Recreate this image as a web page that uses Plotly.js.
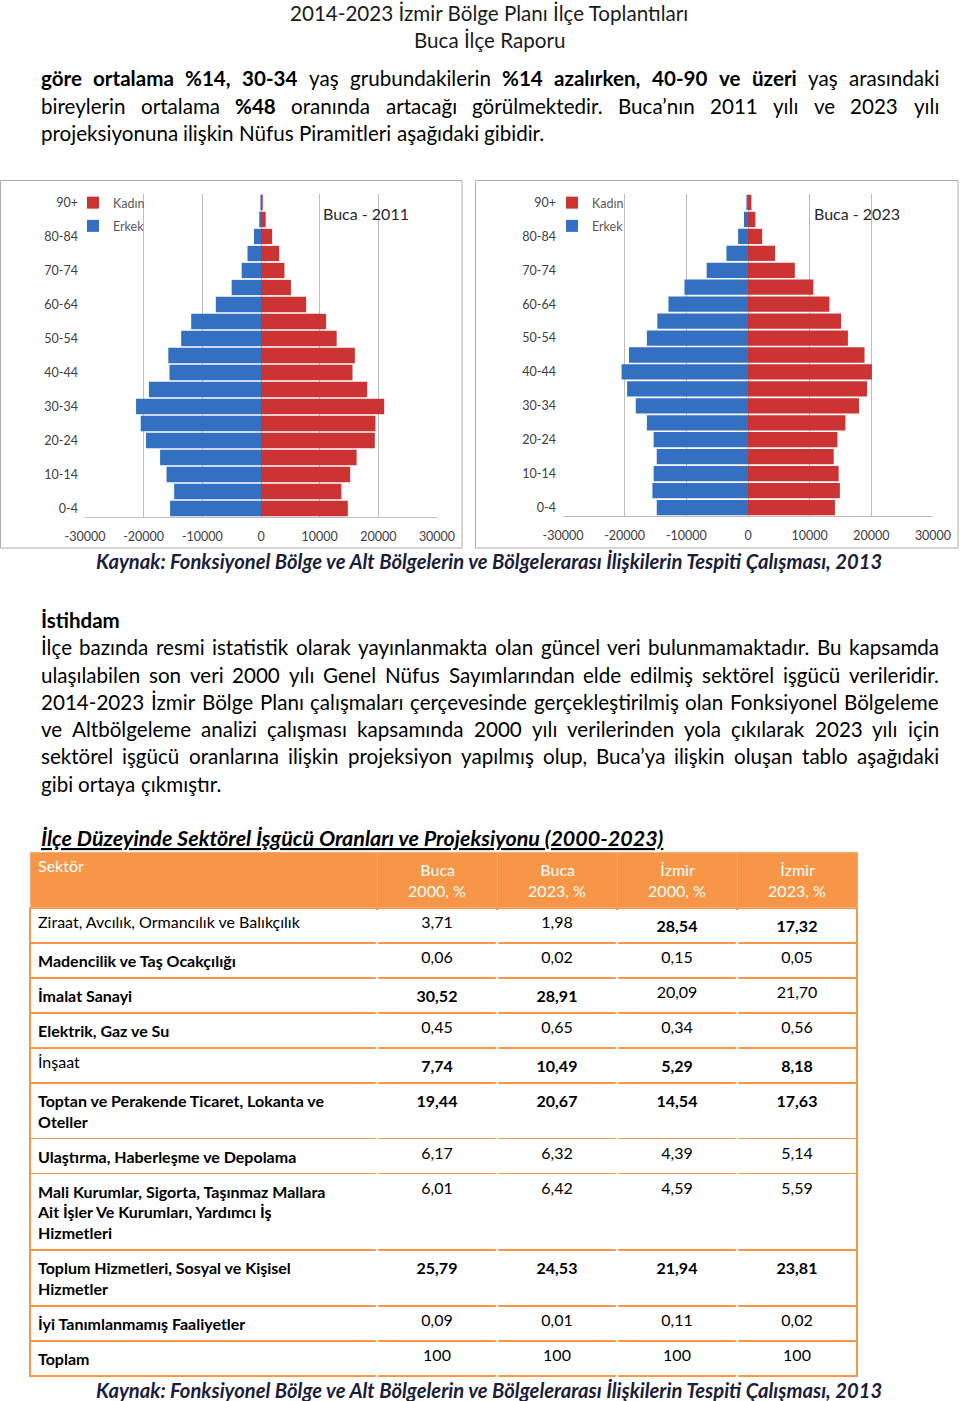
<!DOCTYPE html>
<html><head><meta charset="utf-8">
<script src="https://cdn.plot.ly/plotly-3.0.1.min.js"></script>
<style>html,body{margin:0;padding:0;background:#fff}</style>
</head><body><div id="chart" style="width:960px;height:1401px"></div>
<script>
// ---------------- DATA ----------------
const ageGroups = ['0-4','5-9','10-14','15-19','20-24','25-29','30-34','35-39','40-44','45-49','50-54','55-59','60-64','65-69','70-74','75-79','80-84','85-89','90+'];
const kadin2011 = [14800,13700,15200,16300,19400,19500,21000,18100,15600,16000,12900,11100,7700,5100,4000,3100,1900,800,300];
const erkek2011 = [15500,14800,16100,17200,19600,20500,21300,19100,15600,15800,13600,11900,7700,5000,3300,2300,1200,300,100];
const kadin2023 = [14100,14900,14700,13900,14500,15800,18000,19300,20100,18900,16200,15100,13200,10600,7600,4400,2300,1200,550];
const erkek2023 = [14800,15500,15300,14800,15300,16400,18200,19600,20500,19300,16400,14700,12900,10300,6700,3500,1600,650,250];
const xTicks = [-30000,-20000,-10000,0,10000,20000,30000];
const seriesNames = ['Kadın','Erkek'];
const chartTitles = ['Buca - 2011','Buca - 2023'];

const sectors = [
  'Ziraat, Avcılık, Ormancılık ve Balıkçılık',
  'Madencilik ve Taş Ocakçılığı',
  'İmalat Sanayi',
  'Elektrik, Gaz ve Su',
  'İnşaat',
  'Toptan ve Perakende Ticaret, Lokanta ve<br>Oteller',
  'Ulaştırma, Haberleşme ve Depolama',
  'Mali Kurumlar, Sigorta, Taşınmaz Mallara<br>Ait İşler Ve Kurumları, Yardımcı İş<br>Hizmetleri',
  'Toplum Hizmetleri, Sosyal ve Kişisel<br>Hizmetler',
  'İyi Tanımlanmamış Faaliyetler',
  'Toplam'
];
const buca2000  = [3.71, 0.06, 30.52, 0.45, 7.74, 19.44, 6.17, 6.01, 25.79, 0.09, 100];
const buca2023  = [1.98, 0.02, 28.91, 0.65, 10.49, 20.67, 6.32, 6.42, 24.53, 0.01, 100];
const izmir2000 = [28.54, 0.15, 20.09, 0.34, 5.29, 14.54, 4.39, 4.59, 21.94, 0.11, 100];
const izmir2023 = [17.32, 0.05, 21.70, 0.56, 8.18, 17.63, 5.14, 5.59, 23.81, 0.02, 100];
const headerTop = ['Sektör','Buca','Buca','İzmir','İzmir'];
const headerBottom = ['','2000, %','2023, %','2000, %','2023, %'];

const headerLines = ['2014-2023 İzmir Bölge Planı İlçe Toplantıları','Buca İlçe Raporu'];
const para1 = [
  '<b>göre ortalama %14, 30-34</b> yaş grubundakilerin <b>%14 azalırken, 40-90 ve üzeri</b> yaş arasındaki',
  'bireylerin ortalama <b>%48</b> oranında artacağı görülmektedir. Buca’nın 2011 yılı ve 2023 yılı',
  'projeksiyonuna ilişkin Nüfus Piramitleri aşağıdaki gibidir.'
];
const sourceText = 'Kaynak: Fonksiyonel Bölge ve Alt Bölgelerin ve Bölgelerarası İlişkilerin Tespiti Çalışması, 2013';
const sectionTitle = 'İstihdam';
const para2 = [
  'İlçe bazında resmi istatistik olarak yayınlanmakta olan güncel veri bulunmamaktadır. Bu kapsamda',
  'ulaşılabilen son veri 2000 yılı Genel Nüfus Sayımlarından elde edilmiş sektörel işgücü verileridir.',
  '2014-2023 İzmir Bölge Planı çalışmaları çerçevesinde gerçekleştirilmiş olan Fonksiyonel Bölgeleme',
  've Altbölgeleme analizi çalışması kapsamında 2000 yılı verilerinden yola çıkılarak 2023 yılı için',
  'sektörel işgücü oranlarına ilişkin projeksiyon yapılmış olup, Buca’ya ilişkin oluşan tablo aşağıdaki',
  'gibi ortaya çıkmıştır.'
];
const tableTitle = 'İlçe Düzeyinde Sektörel İşgücü Oranları ve Projeksiyonu (2000-2023)';

// ---------------- STYLE / LAYOUT ----------------
const W = 960, H = 1401;
const px = x => x / W;
const py = y => 1 - y / H;
const FONT = 'Lato';
const RED = '#CC3434', BLUE = '#3470C2', ORANGE = '#F79646';
const labelBold = [false,true,true,true,false,true,true,true,true,true,true];
const valBold = [[2,4,5,8],[2,4,5,8],[0,4,5,8],[0,4,5,8]];

const cvs = document.createElement('canvas');
const ctx = cvs.getContext('2d');
function tw(t, bold, size){ ctx.font = (bold?'bold ':'') + size + 'px ' + FONT; return ctx.measureText(t).width; }
function parseWords(line){
  const words = []; let bold = false;
  line.split(/(<\/?b>)/).forEach(seg => {
    if (seg === '<b>') { bold = true; return; }
    if (seg === '</b>') { bold = false; return; }
    seg.split(' ').forEach(w => { if (w) words.push({w, bold}); });
  });
  return words;
}
const annotations = [];
function addLine(line, x0, x1, y, size, justify, color){
  const words = parseWords(line);
  const widths = words.map(o => tw(o.w, o.bold, size));
  const total = widths.reduce((a,b)=>a+b,0);
  const gap = justify && words.length > 1 ? (x1 - x0 - total) / (words.length - 1) : tw(' ', false, size);
  let x = x0;
  words.forEach((o,i) => {
    annotations.push({xref:'paper', yref:'paper', x:px(x), y:py(y), xanchor:'left', yanchor:'middle',
      showarrow:false, borderpad:0, text: o.bold ? '<b>'+o.w+'</b>' : o.w,
      font:{family:FONT, size:size, color:color||'#000'}});
    x += widths[i] + gap;
  });
}
function addText(text, x, y, size, anchor, color){
  annotations.push({xref:'paper', yref:'paper', x:px(x), y:py(y), xanchor:anchor, yanchor:'middle',
    showarrow:false, borderpad:0, text:text, font:{family:FONT, size:size, color:color||'#000'}});
}

const BODY = 20.6;
addText(headerLines[0], 489, 13, BODY, 'center', '#1a1a1a');
addText(headerLines[1], 489, 40, BODY, 'center', '#1a1a1a');
const p1y = [78, 106, 133];
para1.forEach((l,i) => addLine(l, 40, 938, p1y[i], BODY, i < para1.length-1));
addText('<b><i>'+sourceText+'</i></b>', 489, 561, 20.2, 'center', '#1b1d3a');
addText('<b>'+sectionTitle+'</b>', 40, 620, 20.5, 'left', '#000');
const p2y = [647, 675, 702, 729, 756, 784];
para2.forEach((l,i) => addLine(l, 40, 938, p2y[i], BODY, i < para2.length-1));
addText('<b><i><u>'+tableTitle+'</u></i></b>', 40, 838, 21.5, 'left', '#000');
addText('<b><i>'+sourceText+'</i></b>', 489, 1390, 20.2, 'center', '#1b1d3a');

// pyramid titles
addText(chartTitles[0], 322, 214, 16, 'left', '#262626');
addText(chartTitles[1], 813, 214, 16, 'left', '#262626');

// ---------------- TRACES ----------------
const TFS = 16;
const fmt = v => v === 100 ? '100' : v.toFixed(2).replace('.', ',');
const valCols = [buca2000, buca2023, izmir2000, izmir2023].map((arr, c) =>
  arr.map((v, r) => valBold[c].includes(r) ? '<b>'+fmt(v)+'</b>' : fmt(v)));
const labelCol = sectors.map((s, r) => labelBold[r] ? '<b>'+s+'</b>' : s);
// centre the short first header line over the second (table lines are left-aligned within a block)
const nb = '\u00a0';
const headerVals = headerTop.map((t, i) => {
  if (!headerBottom[i]) return t;
  const d = (tw(headerBottom[i], false, TFS) - tw(t, false, TFS)) / 2;
  const n = Math.max(0, Math.round(d / tw(nb, false, TFS)));
  return nb.repeat(n) + t + '<br>' + headerBottom[i];
});

function pyramid(kadin, erkek, xa, ya, leg){
  return [
    {type:'bar', orientation:'h', y:ageGroups, x:kadin, name:seriesNames[0], xaxis:xa, yaxis:ya,
     marker:{color:RED}, legend:leg, legendgroup:leg+'k'},
    {type:'bar', orientation:'h', y:ageGroups, x:erkek.map(v => -v), name:seriesNames[1], xaxis:xa, yaxis:ya,
     marker:{color:BLUE}, legend:leg, legendgroup:leg+'e'}
  ];
}
const TX0 = 30, TX1 = 857;
const colWidths = [347,120,120,120,120];
const data = [
  ...pyramid(kadin2011, erkek2011, 'x', 'y', 'legend'),
  ...pyramid(kadin2023, erkek2023, 'x2', 'y2', 'legend2'),
  {type:'table', domain:{x:[px(TX0), px(TX1)], y:[py(1400), py(852)]},
   columnwidth:colWidths,
   header:{values:headerVals, align:['left','center','center','center','center'],
     fill:{color:ORANGE}, line:{color:'#F9AA72', width:1}, height:40,
     font:{family:FONT, size:TFS, color:'#fff'}},
   cells:{values:[labelCol, ...valCols], align:['left','center','center','center','center'],
     fill:{color:'#fff'}, line:{color:ORANGE, width:1.5}, height:30,
     font:{family:FONT, size:TFS, color:'#000'}}}
];

// the reference table body only has horizontal rules: mask the inner column separators
const sumW = colWidths.reduce((a,b)=>a+b,0);
const shapes = [
  {type:'rect', xref:'paper', yref:'paper', x0:px(0.5), x1:px(462), y0:py(548), y1:py(180.5), line:{color:'#ABABAB', width:1}},
  {type:'rect', xref:'paper', yref:'paper', x0:px(475.5), x1:px(958), y0:py(548), y1:py(180.5), line:{color:'#ABABAB', width:1}}
];
let acc = 0;
colWidths.slice(0, -1).forEach(w => {
  acc += w;
  const xb = TX0 + (TX1 - TX0) * acc / sumW;
  shapes.push({type:'line', xref:'paper', yref:'paper', layer:'above', x0:px(xb), x1:px(xb),
    y0:py(910), y1:py(1377), line:{color:'#ffffff', width:2.5}});
});

const tickFont = {family:FONT, size:12.5, color:'#404040'};
const yTickVals = ageGroups.filter((_, i) => i % 2 === 0);
function xAxis(d0, d1, anchor){
  return {domain:[px(d0), px(d1)], anchor:anchor, range:[-30000, 30000], tickvals:xTicks,
    ticktext:xTicks.map(String), showgrid:true, gridcolor:'#BDBDBD', gridwidth:1, zeroline:false,
    showline:true, linecolor:'#BDBDBD', ticks:'', tickfont:tickFont, ticklabelstandoff:8, fixedrange:true};
}
function yAxis(d0, d1, anchor){
  return {domain:[py(d1), py(d0)], anchor:anchor, type:'category', tickvals:yTickVals, ticktext:yTickVals,
    showgrid:false, zeroline:false, showline:false, ticks:'', tickfont:tickFont, ticklabelstandoff:6, fixedrange:true};
}
const legendBase = {yanchor:'top', xanchor:'left', bgcolor:'rgba(0,0,0,0)', tracegroupgap:4,
  font:{family:FONT, size:12.5, color:'#595959'}, itemwidth:30};

const layout = {
  width:W, height:H, margin:{l:0, r:0, t:0, b:0}, paper_bgcolor:'#fff', plot_bgcolor:'rgba(0,0,0,0)',
  barmode:'relative', bargap:0.1, showlegend:true, hovermode:false,
  xaxis: xAxis(85, 437, 'y'), yaxis: yAxis(194, 517, 'x'),
  xaxis2: xAxis(563, 933, 'y2'), yaxis2: yAxis(194, 516, 'x2'),
  legend: Object.assign({x:px(73), y:py(188)}, legendBase),
  legend2: Object.assign({x:px(552), y:py(188)}, legendBase),
  shapes: shapes,
  annotations: annotations
};
Plotly.newPlot('chart', data, layout, {staticPlot:true, displayModeBar:false});
</script></body></html>
